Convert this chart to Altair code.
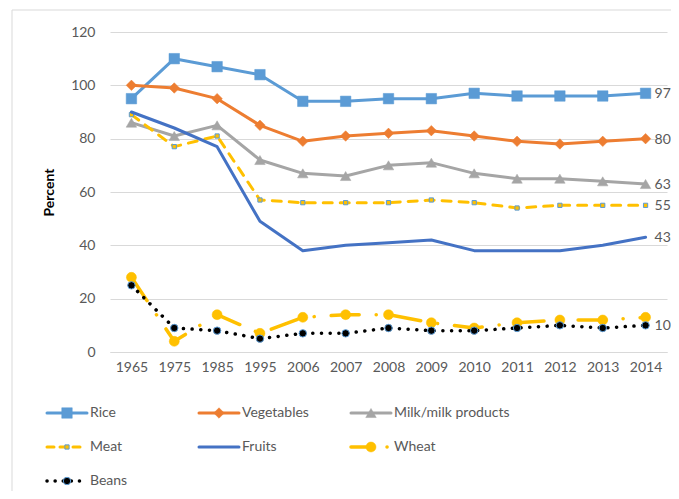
import json
import altair as alt
import pandas as pd

# ---------------- data ----------------
years = ["1965", "1975", "1985", "1995", "2006", "2007", "2008",
         "2009", "2010", "2011", "2012", "2013", "2014"]
series_names = ["Rice", "Vegetables", "Milk/milk products", "Meat",
                "Fruits", "Wheat", "Beans"]
rice = [95, 110, 107, 104, 94, 94, 95, 95, 97, 96, 96, 96, 97]
vegetables = [100, 99, 95, 85, 79, 81, 82, 83, 81, 79, 78, 79, 80]
milk = [86, 81, 85, 72, 67, 66, 70, 71, 67, 65, 65, 64, 63]
meat = [89, 77, 81, 57, 56, 56, 56, 57, 56, 54, 55, 55, 55]
fruits = [90, 84, 77, 49, 38, 40, 41, 42, 38, 38, 38, 40, 43]
wheat = [28, 4, 14, 7, 13, 14, 14, 11, 9, 11, 12, 12, 13]
beans = [25, 9, 8, 5, 7, 7, 9, 8, 8, 9, 10, 9, 10]
end_label_series = ["Rice", "Vegetables", "Milk/milk products", "Meat",
                    "Fruits", "Beans"]
legend_col = [0, 1, 2, 0, 1, 2, 0]
legend_row = [0, 0, 0, 1, 1, 1, 2]
y_ticks = [0, 20, 40, 60, 80, 100, 120]

all_values = [rice, vegetables, milk, meat, fruits, wheat, beans]
df = pd.DataFrame([
    {"year": y, "series": s, "value": v}
    for s, vals in zip(series_names, all_values)
    for y, v in zip(years, vals)
])
leg_df = pd.DataFrame({"series": series_names, "col": legend_col,
                       "row": legend_row})

# ---------------- styles ----------------
FONT = "Lato"
GRAY = "#595959"
GRID = "#D9D9D9"

styles = {
    "Rice": dict(color="#5B9BD5", width=3, dash=None, shape="square",
                 size=110, fill="#5B9BD5", stroke="#5B9BD5", sw=0.5,
                 leg_len=40, leg_dash=None),
    "Vegetables": dict(color="#ED7D31", width=3, dash=None, shape="diamond",
                       size=110, fill="#ED7D31", stroke="#ED7D31", sw=0.5,
                       leg_len=40, leg_dash=None),
    "Milk/milk products": dict(color="#A5A5A5", width=3, dash=None,
                               shape="triangle-up", size=110, fill="#A5A5A5",
                               stroke="#A5A5A5", sw=0.5, leg_len=40,
                               leg_dash=None),
    "Meat": dict(color="#FFC000", width=3, dash=[9, 8], shape="square",
                 size=18, fill="#FFC000", stroke="#5B9BD5", sw=1,
                 leg_len=35, leg_dash=[7, 6]),
    "Fruits": dict(color="#4472C4", width=3, dash=None, shape=None,
                   size=0, fill=None, stroke=None, sw=0,
                   leg_len=40, leg_dash=None),
    "Wheat": dict(color="#FFC000", width=3.5, dash=[28, 17, 0.1, 17],
                  shape="circle", size=100, fill="#FFC000", stroke="#FFC000",
                  sw=0.5, leg_len=40, leg_dash=[22, 14, 0.1, 30]),
    "Beans": dict(color="#000000", width=3.5, dash=[0.1, 8.6],
                  shape="circle", size=55, fill="#000000", stroke="#5B9BD5",
                  sw=1, leg_len=35, leg_dash=[0.1, 8]),
}

# ---------------- main chart ----------------
x_enc = alt.X("year:N", sort=years,
              scale=alt.Scale(type="point", padding=0.5),
              axis=alt.Axis(title=None, labelAngle=0, labelFontSize=14,
                            labelColor=GRAY, labelFont=FONT, ticks=False,
                            domainColor=GRID, domainWidth=1, labelPadding=8,
                            grid=False))
y_enc = alt.Y("value:Q", scale=alt.Scale(domain=[0, 120], nice=False),
              axis=alt.Axis(values=y_ticks, title="Percent", titleFont=FONT,
                            titleFontSize=14, titleFontWeight="bold",
                            titleColor="#000000", titlePadding=14,
                            labelFont=FONT, labelFontSize=14, labelColor=GRAY,
                            labelPadding=15, ticks=False, domain=False,
                            grid=True, gridColor=GRID, gridWidth=1))

base = alt.Chart(df).encode(x=x_enc, y=y_enc)

main_layers = []
for s in series_names:
    st = styles[s]
    sub = base.transform_filter(alt.datum.series == s)
    line_kw = dict(color=st["color"], strokeWidth=st["width"],
                   strokeCap="round", strokeJoin="round")
    if st["dash"] is not None:
        line_kw["strokeDash"] = st["dash"]
    main_layers.append(sub.mark_line(**line_kw))
    if st["shape"] is not None:
        main_layers.append(sub.mark_point(shape=st["shape"], size=st["size"],
                                          filled=True, fill=st["fill"],
                                          stroke=st["stroke"],
                                          strokeWidth=st["sw"], opacity=1))

label_expr = (f"datum.year == '{years[-1]}' && "
              f"indexof({json.dumps(end_label_series)}, datum.series) >= 0")
labels = base.transform_filter(label_expr).mark_text(
    align="left", baseline="middle", dx=9, dy=1, fontSize=14,
    font=FONT, color=GRAY).encode(text="value:Q")
main_layers.append(labels)

main = alt.layer(*main_layers)

# ---------------- legend ----------------
lx = alt.Scale(domain=[0, 456], range=[-63, 393], nice=False, zero=False)
ly = alt.Scale(domain=[0, 2], range=[381, 449], nice=False, zero=False)
leg_base = alt.Chart(leg_df).transform_calculate(
    x0="datum.col * 152", xm="datum.col * 152 + 20",
    xt="datum.col * 152 + 43")
leg_layers = []
for s in series_names:
    st = styles[s]
    sub = leg_base.transform_filter(alt.datum.series == s).transform_calculate(
        x1=f"datum.x0 + {st['leg_len']}")
    rule_kw = dict(color=st["color"], strokeWidth=st["width"],
                   strokeCap="round")
    if st["leg_dash"] is not None:
        rule_kw["strokeDash"] = st["leg_dash"]
    leg_layers.append(sub.mark_rule(**rule_kw).encode(
        x=alt.X("x0:Q", scale=lx, axis=None), x2="x1:Q",
        y=alt.Y("row:Q", scale=ly, axis=None)))
    if st["shape"] is not None:
        leg_layers.append(sub.mark_point(
            shape=st["shape"], size=st["size"], filled=True, fill=st["fill"],
            stroke=st["stroke"], strokeWidth=st["sw"], opacity=1).encode(
            x=alt.X("xm:Q", scale=lx, axis=None),
            y=alt.Y("row:Q", scale=ly, axis=None)))
leg_layers.append(leg_base.mark_text(
    align="left", baseline="middle", fontSize=14, font=FONT, color=GRAY
).encode(x=alt.X("xt:Q", scale=lx, axis=None),
         y=alt.Y("row:Q", scale=ly, axis=None), text="series:N"))
legend = alt.layer(*leg_layers)

# ---------------- frame ----------------
frame = alt.Chart(pd.DataFrame({"k": [0]})).mark_rect(
    fill="transparent", stroke=GRID, strokeWidth=1
).encode(x=alt.value(-98), x2=alt.value(700), y=alt.value(-22),
         y2=alt.value(600))

chart = alt.layer(frame, main, legend).resolve_scale(
    x="independent", y="independent"
).properties(
    width=557, height=320,
    autosize=alt.AutoSizeParams(type="none"),
    padding={"left": 102, "top": 24, "right": 4, "bottom": 139},
    background="white",
).configure_view(stroke=None)

chart.save("out.html", embed_options={"renderer": "svg", "actions": False})
